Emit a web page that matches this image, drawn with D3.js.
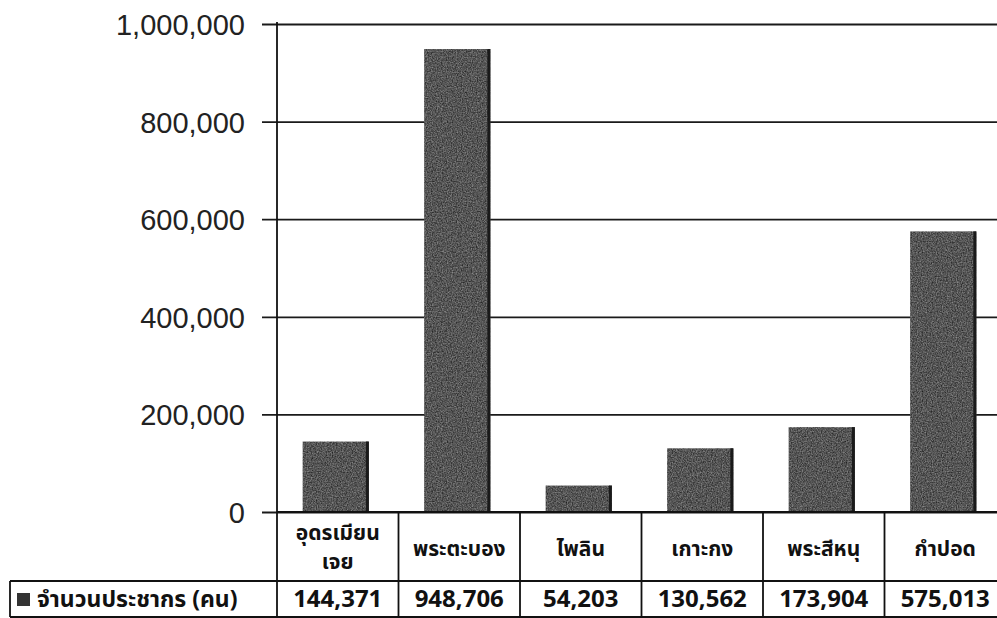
<!DOCTYPE html>
<html>
<head>
<meta charset="utf-8">
<script src="https://cdn.jsdelivr.net/npm/d3@7"></script>
<style>
  body { margin: 0; background: #fff; }
  svg { display: block; }
</style>
</head>
<body>
<div id="chart"></div>
<script>
// data
const categories = [['อุดรเมียน', 'เจย'], ['พระตะบอง'], ['ไพลิน'], ['เกาะกง'], ['พระสีหนุ'], ['กำปอด']];
const categoryKeys = categories.map(c => c.join(''));
const population = [144371, 948706, 54203, 130562, 173904, 575013];
const yTicks = [0, 200000, 400000, 600000, 800000, 1000000];
const seriesName = 'จำนวนประชากร (คน)';

const width = 997, height = 618;
const plot = {left: 277, right: 1006, top: 24, bottom: 512};
const catRowBottom = 581, valRowBottom = 617, tableLeft = 10;

const svg = d3.select('#chart').append('svg')
    .attr('width', width)
    .attr('height', height);

// grainy fill like the scanned bars
const defs = svg.append('defs');
const grain = defs.append('filter').attr('id', 'grain')
    .attr('x', 0).attr('y', 0).attr('width', 1).attr('height', 1)
    .attr('color-interpolation-filters', 'sRGB');
grain.append('feTurbulence')
    .attr('type', 'fractalNoise')
    .attr('baseFrequency', 0.8)
    .attr('numOctaves', 2)
    .attr('seed', 3)
    .attr('result', 'noise');
grain.append('feColorMatrix').attr('in', 'noise').attr('type', 'matrix')
    .attr('values', '0.55 0 0 0 0.06  0.55 0 0 0 0.06  0.55 0 0 0 0.06  0 0 0 0 1')
    .attr('result', 'grey');
grain.append('feComposite')
    .attr('in', 'grey').attr('in2', 'SourceGraphic')
    .attr('operator', 'in');

const x = d3.scaleBand()
    .domain(categoryKeys)
    .range([plot.left, plot.right])
    .padding(0);

const y = d3.scaleLinear()
    .domain([0, 1000000])
    .range([plot.bottom, plot.top]);

// gridlines + y axis
const yAxis = svg.append('g')
    .attr('transform', 'translate(' + plot.left + ',0)')
    .call(d3.axisLeft(y).tickValues(yTicks).tickSize(15).tickPadding(17).tickFormat(d3.format(',')));
yAxis.select('.domain').remove();
yAxis.selectAll('.tick line')
    .attr('stroke', '#1a1a1a')
    .attr('stroke-width', 1.8)
    .attr('x1', -15)
    .attr('x2', width - plot.left);
yAxis.selectAll('text')
    .attr('fill', '#222')
    .attr('dy', '0.36em')
    .style('font-family', '"Liberation Sans", Arial, sans-serif')
    .style('font-size', '29px');

// bars
const barW = x.bandwidth() * 0.545;
const barOffset = (x.bandwidth() - barW) / 2 - 2;
const bars = svg.append('g');
bars.selectAll('rect.bar')
    .data(population)
    .join('rect')
    .attr('class', 'bar')
    .attr('x', (d, i) => x(categoryKeys[i]) + barOffset)
    .attr('y', d => y(d))
    .attr('width', barW)
    .attr('height', d => y(0) - y(d))
    .attr('fill', '#555')
    .attr('filter', 'url(#grain)');
bars.selectAll('rect.edge')
    .data(population)
    .join('rect')
    .attr('class', 'edge')
    .attr('x', (d, i) => x(categoryKeys[i]) + barOffset + barW - 3)
    .attr('y', d => y(d))
    .attr('width', 3)
    .attr('height', d => y(0) - y(d))
    .attr('fill', '#1a1a1a');

// data table
const table = svg.append('g')
    .attr('stroke', '#111')
    .attr('stroke-width', 1.8);
// y axis line down through the category row
table.append('line')
    .attr('x1', plot.left).attr('x2', plot.left)
    .attr('y1', plot.top - 2).attr('y2', valRowBottom);
table.append('line')
    .attr('x1', plot.left).attr('x2', width)
    .attr('y1', plot.bottom).attr('y2', plot.bottom);
table.append('line')
    .attr('x1', tableLeft).attr('x2', width)
    .attr('y1', catRowBottom).attr('y2', catRowBottom);
table.append('line')
    .attr('x1', tableLeft).attr('x2', width)
    .attr('y1', valRowBottom).attr('y2', valRowBottom);
table.append('line')
    .attr('x1', tableLeft).attr('x2', tableLeft)
    .attr('y1', catRowBottom).attr('y2', valRowBottom);
table.selectAll('line.col')
    .data(categoryKeys.slice(1))
    .join('line')
    .attr('class', 'col')
    .attr('x1', d => x(d)).attr('x2', d => x(d))
    .attr('y1', plot.bottom).attr('y2', valRowBottom);

const thaiFont = 'Tahoma, "Noto Sans Thai", "Noto Sans", sans-serif';

// category labels
const catLabels = svg.append('g')
    .selectAll('text')
    .data(categories)
    .join('text')
    .attr('text-anchor', 'middle')
    .attr('fill', '#111')
    .style('font-family', thaiFont)
    .style('font-size', '21px')
    .style('font-weight', 'bold')
    .attr('x', (d, i) => x(categoryKeys[i]) + x.bandwidth() / 2)
    .attr('y', d => d.length > 1 ? 540 : 556);
catLabels.selectAll('tspan')
    .data(d => d)
    .join('tspan')
    .attr('x', function() { return d3.select(this.parentNode).attr('x'); })
    .attr('dy', (d, i) => i === 0 ? 0 : 29)
    .text(d => d);

// value row
svg.append('g')
    .selectAll('text')
    .data(population)
    .join('text')
    .attr('text-anchor', 'middle')
    .attr('fill', '#111')
    .style('font-family', thaiFont)
    .style('font-size', '24px')
    .style('font-weight', 'bold')
    .attr('x', (d, i) => x(categoryKeys[i]) + x.bandwidth() / 2)
    .attr('y', 607)
    .text(d => d3.format(',')(d));

// legend cell
svg.append('rect')
    .attr('x', 17).attr('y', 593)
    .attr('width', 13).attr('height', 13)
    .attr('fill', '#333');
svg.append('text')
    .attr('x', 37).attr('y', 607)
    .attr('fill', '#111')
    .style('font-family', thaiFont)
    .style('font-size', '23px')
    .style('font-weight', 'bold')
    .text(seriesName);
</script>
</body>
</html>
